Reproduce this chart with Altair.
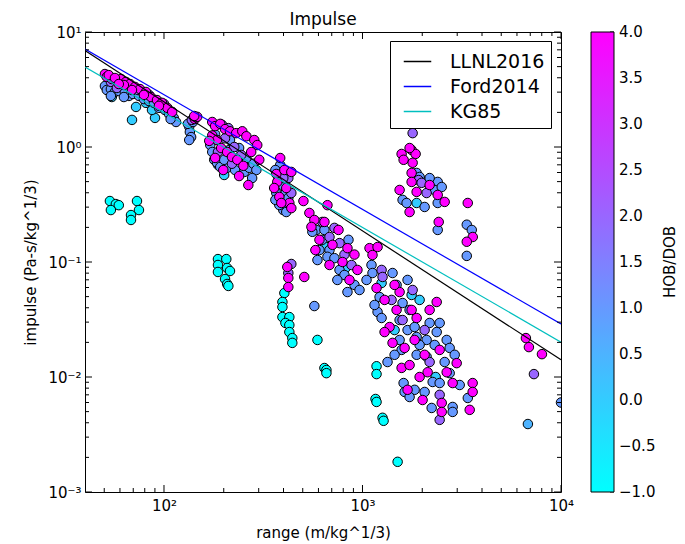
import altair as alt
import pandas as pd

# ---------------- scatter data (range m/kg^1/3, impulse Pa-s/kg^1/3), grouped by HOB/DOB ----------------
cyan_range = [53.4, 57.2, 59.2, 54.0, 73.1, 74.8, 68.2, 68.2,
              187, 206, 187, 208, 187, 215, 203, 208, 211,
              404, 395, 395, 395, 428, 409, 428, 428, 443, 443,
              593, 643, 658, 658,
              1177, 1177, 1163, 1177, 1262, 1277, 1503]
cyan_impulse = [0.339, 0.319, 0.312, 0.283, 0.339, 0.283, 0.256, 0.232,
                0.106, 0.106, 0.0942, 0.0887, 0.0819, 0.0835, 0.0711, 0.0644, 0.0619,
                0.0537, 0.0449, 0.0406, 0.0332, 0.0332, 0.0295, 0.0283, 0.0246, 0.0218, 0.0198,
                0.0210, 0.01197, 0.0115, 0.0108,
                0.0124, 0.0106, 0.00644, 0.00607, 0.00442, 0.00416, 0.00183]

zero_range = [54.6, 69.0, 72.3, 90.1, 87.0, 81.1, 187, 201, 1874, 658, 821, 1248, 1768, 1940, 2337, 1451]
zero_impulse = [2.72, 1.72, 2.23, 1.79, 2.10, 2.42, 0.700, 0.571, 0.326, 0.135, 0.0887, 0.0657, 0.0517,
                0.0468, 0.0100, 0.0256]

half_range = [6812]
half_impulse = [0.0039]

one_range = [50.4, 51.5, 54.0, 56.6, 59.2, 63.5, 66.6, 69.8, 74.8, 79.2, 84.0, 89.0, 94.3, 101, 106, 112, 115, 108, 54.0, 62.8,
             134, 135, 137, 132, 140, 134,
             171, 175, 179, 185, 192, 208, 228, 254, 269, 282, 292, 278, 213, 239, 260, 201, 181, 215,
             385, 364, 377, 395, 409, 368, 423, 399, 381, 413, 364,
             572,
             585, 643, 627, 850, 607, 682, 666, 722, 766, 811, 911, 966, 593, 747, 840, 559,
             1110, 1123, 1417, 1485, 1687, 1219, 1592, 1727, 1191, 1248, 1538, 1687, 1831, 2179, 2448, 2365, 2104, 1874,
             1538, 2656, 1574, 1337, 1874, 2104, 2257, 2448, 2749, 2914, 2749, 3393, 1611, 1630, 1831, 2056, 2231, 2846,
             2846, 1727, 1048, 1150, 1940, 2594, 3088, 1451, 2310,
             1874, 2056, 2393, 2309, 2507, 1592, 1668, 2056, 2393, 2393, 3352, 3552, 3352, 1940, 2179,
             10000]
one_impulse = [3.39, 3.13, 3.19, 3.01, 3.07, 3.01, 2.78, 2.89, 2.78, 2.61, 2.51, 2.42, 2.19, 2.10, 1.94, 1.79, 1.65, 1.75, 2.78, 2.72,
               1.50, 1.35, 1.22, 1.59, 1.65, 1.15,
               1.04, 0.905, 0.774, 0.729, 0.670, 0.659, 0.631, 0.607, 0.659, 0.715, 0.631, 0.537, 0.942, 0.980, 0.803, 0.774, 1.29, 1.15,
               0.698, 0.631, 0.537, 0.467, 0.398, 0.398, 0.361, 0.283, 0.313, 0.272, 0.347,
               0.0414,
               0.190, 0.190, 0.156, 0.156, 0.127, 0.127, 0.111, 0.108, 0.0853, 0.0771, 0.0632, 0.0571, 0.104, 0.0698, 0.0548, 0.183,
               0.0942, 0.0802, 0.0802, 0.0632, 0.0698, 0.0496, 0.0440, 0.0383, 0.0368, 0.0326, 0.0313, 0.0256, 0.0272, 0.0295,
               0.0295, 0.0246, 0.0210, 0.0223, 0.0210, 0.0210, 0.0172, 0.0135, 0.0156, 0.0150, 0.00905, 0.00886, 0.0179, 0.0156,
               0.0108, 0.00657, 0.00886, 0.00741, 0.00774, 0.00741, 0.00538, 0.00549, 0.00497, 0.00670, 0.0698, 0.0423, 0.0190,
               0.0135, 0.00852, 0.0156, 0.0190,
               0.595, 0.497, 0.497, 0.423, 0.449, 0.347, 0.326, 0.301, 0.326, 0.190, 0.211, 0.190, 0.113, 0.549, 0.537,
               0.006]

two_range = [54.0, 62.1, 74.0, 84.0, 100, 57.9,
             138,
             196, 211, 203, 226, 187, 245, 220,
             423, 438, 399,
             438, 423,
             627, 682, 766, 811, 722, 880,
             1248, 1262, 1789, 2179, 2448, 2448, 1401, 2056, 1592,
             1789, 1918, 2104, 1985,
             7305]
two_impulse = [3.68, 3.60, 3.13, 2.84, 2.37, 3.26,
               1.72,
               1.56, 1.46, 1.19, 1.00, 0.905, 0.853, 0.715,
               0.537, 0.398, 0.537,
               0.0961, 0.0802,
               0.223, 0.165, 0.146, 0.116, 0.198, 0.0942,
               0.0853, 0.0741, 0.0571, 0.0135, 0.00700, 0.00424, 0.0468, 0.0256, 0.0313,
               1.32, 0.516, 0.398, 0.488,
               0.0106]

four_range = [50.4, 51.5, 54.6, 57.9, 60.7, 64.3, 67.4, 71.4, 75.7, 81.1, 86.0, 92.2, 97.7, 104, 110, 52.7, 56.6, 62.8,
              69.0, 79.2, 94.3, 59.2,
              143, 147, 142,
              175, 181, 192, 203, 215, 231, 248, 260, 285, 295, 175, 185, 194, 208, 220, 234, 251, 181, 199, 239, 266,
              275, 302, 169,
              385, 368, 372, 404, 438, 381, 428, 438, 359, 413, 390,
              504, 666,
              418, 423, 423, 509,
              540, 572, 553, 757, 840, 607, 706, 911, 793, 943, 643, 860, 682, 579,
              1085, 1123, 1538, 1177, 1485, 1874, 1369, 1292, 2179, 2365, 1574, 1727, 2129, 1940, 2982, 2846, 3589, 3589,
              3468, 2008, 2507, 2507, 1191, 1417, 1630, 1831, 1292, 1451, 1768, 2056, 2448, 2656, 1687,
              1574, 1768, 1852, 1611, 1789, 1768, 1768, 2179, 1874, 2393, 1538, 1727, 2594, 3391, 2421, 3593, 3352, 1727,
              6656, 6892, 8017]
four_impulse = [4.31, 4.07, 3.90, 3.82, 3.90, 3.68, 3.53, 3.33, 3.19, 3.01, 2.72, 2.56, 2.42, 2.19, 2.02, 4.22, 3.98, 3.46,
                3.13, 2.84, 2.28, 3.53,
                1.75, 1.83, 1.86,
                1.65, 1.52, 1.59, 1.43, 1.37, 1.32, 1.37, 1.24, 1.15, 1.04, 1.26, 1.15, 0.980, 0.905, 0.819, 0.774, 0.686,
                0.803, 0.631, 0.559, 0.467, 0.905, 0.774, 1.13,
                0.802, 0.583, 0.497, 0.631, 0.607, 0.368, 0.326, 0.294, 0.440, 0.440, 0.326,
                0.339, 0.312,
                0.0905, 0.0726, 0.0606, 0.0741,
                0.267, 0.232, 0.202, 0.190, 0.132, 0.156, 0.141, 0.116, 0.100, 0.0853, 0.223, 0.0698, 0.0942, 0.127,
                0.132, 0.115, 0.0548, 0.0594, 0.0383, 0.0326, 0.0272, 0.0246, 0.0383, 0.0449, 0.0120, 0.0127, 0.0110,
                0.0100, 0.0132, 0.00886, 0.00886, 0.00741, 0.00518, 0.00631, 0.00595, 0.00497, 0.135, 0.0198, 0.0179,
                0.0210, 0.0468, 0.0632, 0.0383, 0.0156, 0.0172, 0.0110, 0.00774,
                0.870, 0.942, 0.870, 0.774, 0.729, 0.595, 0.497, 0.467, 0.407, 0.383, 0.423, 0.272, 0.333, 0.326, 0.223,
                0.165, 0.150, 0.98,
                0.0218, 0.0182, 0.0158]

hob_levels = [-1.0, 0.0, 0.5, 1.0, 2.0, 4.0]
groups = [(cyan_range, cyan_impulse), (zero_range, zero_impulse), (half_range, half_impulse),
          (one_range, one_impulse), (two_range, two_impulse), (four_range, four_impulse)]

# ---------------- fitted curves ----------------
line_names = ["LLNL2016", "Ford2014", "KG85"]
line_colors = ["#000000", "#0000ff", "#00bfbf"]
line_x = [40, 10000]
llnl_y = [6.9, 0.0141]
ford_y = [7.1, 0.0289]
kg85_y = [4.95, 0.0201]

# ---------------- ticks ----------------
x_major = [100, 1000, 10000]
x_minor = [50, 60, 70, 80, 90, 200, 300, 400, 500, 600, 700, 800, 900,
           2000, 3000, 4000, 5000, 6000, 7000, 8000, 9000]
y_major = [0.001, 0.01, 0.1, 1, 10]
y_minor = [0.002, 0.003, 0.004, 0.005, 0.006, 0.007, 0.008, 0.009,
           0.02, 0.03, 0.04, 0.05, 0.06, 0.07, 0.08, 0.09,
           0.2, 0.3, 0.4, 0.5, 0.6, 0.7, 0.8, 0.9,
           2, 3, 4, 5, 6, 7, 8, 9]
cbar_ticks = [-1.0, -0.5, 0.0, 0.5, 1.0, 1.5, 2.0, 2.5, 3.0, 3.5, 4.0]

W, H = 476, 460
FONT = "DejaVu Sans"
CB_X, CB_W = 506, 23

rows = []
for hob, (xs, ys) in zip(hob_levels, groups):
    for xv, yv in zip(xs, ys):
        rows.append({"range": xv, "impulse": yv, "hob": hob})
pts = pd.DataFrame(rows)

lrows = []
for name, ys in zip(line_names, [llnl_y, ford_y, kg85_y]):
    for xv, yv in zip(line_x, ys):
        lrows.append({"range": xv, "impulse": yv, "model": name})
lines_df = pd.DataFrame(lrows)

xscale = alt.Scale(type="log", domain=[40, 10000], nice=False)
yscale = alt.Scale(type="log", domain=[0.001, 10], nice=False)
cbscale = alt.Scale(domain=[-1, 4], range=[H, 0], nice=False, zero=False)

x_axis = alt.Axis(values=x_major, title="range (m/kg^1/3)", grid=False, ticks=False, domain=False,
                  labelExpr="datum.value < 500 ? '10²' : datum.value < 5000 ? '10³' : '10⁴'",
                  labelPadding=6, titleX=238, titleY=40, titleBaseline="middle", labelFlush=False,
                  labelFont=FONT, labelFontSize=15, labelColor="black",
                  titleFont=FONT, titleFontSize=15, titleFontWeight="normal", titleColor="black")
y_axis = alt.Axis(values=y_major, title="impulse (Pa-s/kg^1/3)", grid=False, ticks=False, domain=False,
                  labelExpr="datum.value >= 5 ? '10¹' : datum.value >= 0.5 ? '10⁰' : datum.value >= 0.05 ? '10⁻¹' : datum.value >= 0.005 ? '10⁻²' : '10⁻³'",
                  labelPadding=4, titleX=-55, titleY=230, titleBaseline="middle", labelFlush=False,
                  labelFont=FONT, labelFontSize=15, labelColor="black",
                  titleFont=FONT, titleFontSize=15, titleFontWeight="normal", titleColor="black")

points = alt.Chart(pts).mark_circle(size=90, stroke="black", strokeWidth=1, opacity=1, clip=True).encode(
    x=alt.X("range:Q", scale=xscale, axis=x_axis),
    y=alt.Y("impulse:Q", scale=yscale, axis=y_axis),
    fill=alt.Fill("hob:Q",
                  scale=alt.Scale(domain=[-1, 4], range=["#00ffff", "#ff00ff"], interpolate="rgb"),
                  legend=alt.Legend(orient="none", legendX=CB_X, legendY=0, padding=0, title=None,
                                    direction="vertical", gradientLength=H, gradientThickness=CB_W,
                                    gradientStrokeColor="black", gradientStrokeWidth=1,
                                    values=[-1.0, 4.0], labelExpr="''", labelFontSize=1)),
)

lines = alt.Chart(lines_df).mark_line(strokeWidth=1.2, clip=True).encode(
    x=alt.X("range:Q", scale=xscale, axis=x_axis),
    y=alt.Y("impulse:Q", scale=yscale, axis=None),
    stroke=alt.Stroke("model:N", scale=alt.Scale(domain=line_names, range=line_colors),
                      legend=alt.Legend(orient="none", legendX=305, legendY=9, title=None,
                                        symbolType="stroke", symbolSize=756, symbolStrokeWidth=1.5,
                                        symbolOffset=7, labelOffset=18, labelFontSize=19, labelFont=FONT,
                                        labelColor="black", padding=6, rowPadding=0,
                                        strokeColor="black", fillColor="white", cornerRadius=0)),
)


def xticks(vals, length):
    d = pd.DataFrame({"v": vals})
    base = alt.Chart(d).mark_rule(color="black", strokeWidth=1)
    enc = dict(x=alt.X("v:Q", scale=xscale, axis=x_axis))
    return [base.encode(y=alt.value(H), y2=alt.value(H - length), **enc),
            base.encode(y=alt.value(0), y2=alt.value(length), **enc)]


def yticks(vals, length):
    d = pd.DataFrame({"v": vals})
    base = alt.Chart(d).mark_rule(color="black", strokeWidth=1)
    enc = dict(y=alt.Y("v:Q", scale=yscale, axis=None))
    return [base.encode(x=alt.value(0), x2=alt.value(length), **enc),
            base.encode(x=alt.value(W), x2=alt.value(W - length), **enc)]


tick_layers = xticks(x_major, 7) + xticks(x_minor, 4) + yticks(y_major, 7) + yticks(y_minor, 4)

# colorbar labels and tick marks
cb_df = pd.DataFrame({"v": cbar_ticks})
cb_labels = alt.Chart(cb_df).mark_text(align="left", baseline="middle", fontSize=15, font=FONT,
                                       color="black").encode(
    y=alt.Y("v:Q", scale=cbscale, axis=None),
    x=alt.value(CB_X + CB_W + 5),
    text=alt.Text("v:Q", format=".1f"),
)
cb_tickmarks = alt.Chart(cb_df).mark_rule(color="black", strokeWidth=1).encode(
    y=alt.Y("v:Q", scale=cbscale, axis=None),
    x=alt.value(CB_X + CB_W), x2=alt.value(CB_X + CB_W - 4),
)

cb_title = alt.Chart(pd.DataFrame({"t": ["HOB/DOB"]})).mark_text(
    angle=270, fontSize=15, font=FONT, color="black", align="center", baseline="middle"
).encode(text="t:N", x=alt.value(585), y=alt.value(230))

plot_title = alt.Chart(pd.DataFrame({"t": ["Impulse"]})).mark_text(
    fontSize=17, font=FONT, color="black", align="center", baseline="alphabetic"
).encode(text="t:N", x=alt.value(W / 2), y=alt.value(-7))

chart = alt.layer(points, lines, *tick_layers, cb_tickmarks, cb_labels, cb_title, plot_title).resolve_scale(
    y="independent"
).properties(
    width=W, height=H,
    background="white",
    autosize=alt.AutoSizeParams(type="none"),
    padding={"left": 85, "top": 32, "right": 124, "bottom": 52},
).configure_view(stroke="black", strokeWidth=1)

chart.save("out.html", embed_options={"renderer": "svg", "actions": False})
